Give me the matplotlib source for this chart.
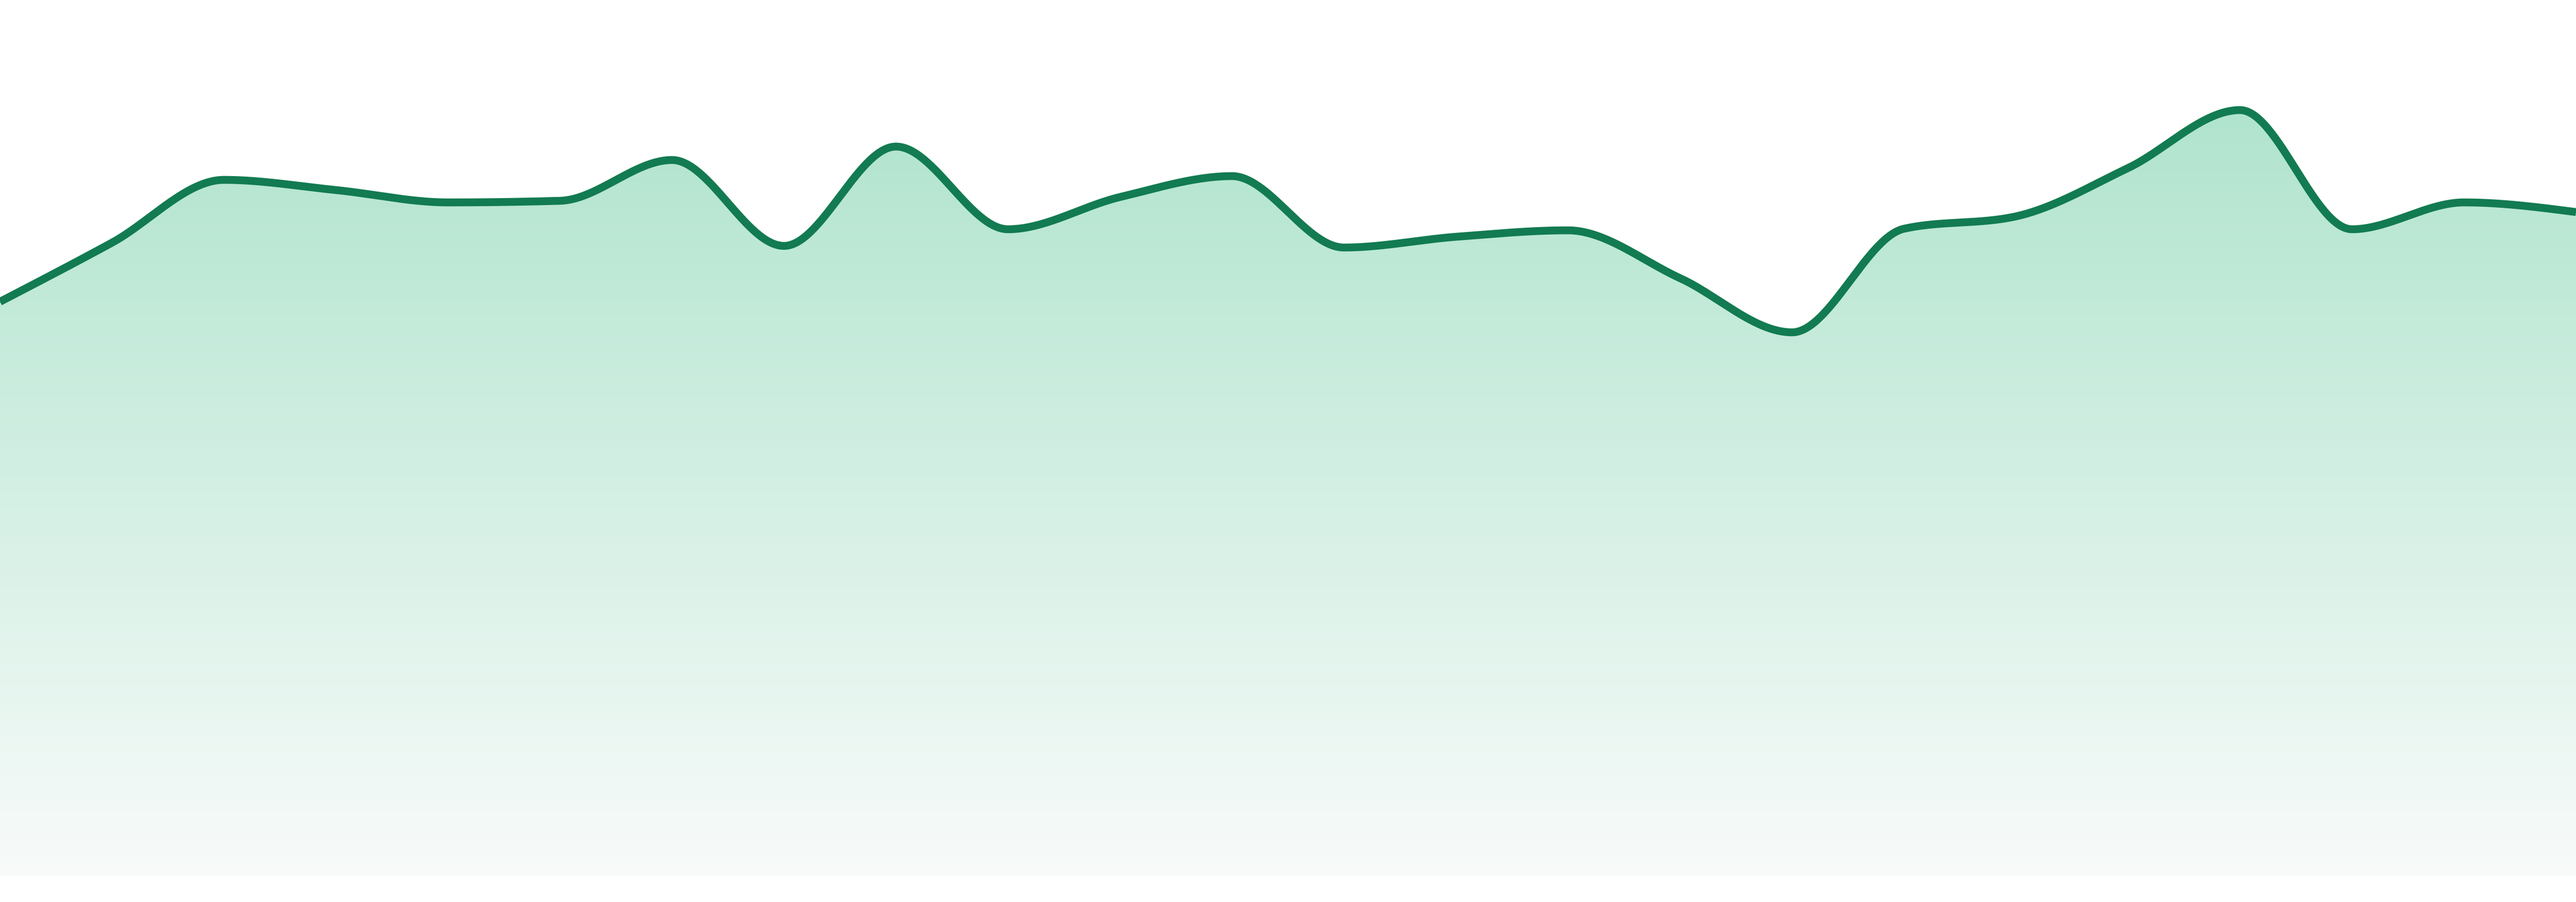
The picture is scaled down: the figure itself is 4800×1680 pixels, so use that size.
import numpy as np
import matplotlib
matplotlib.use("Agg")
import matplotlib.pyplot as plt
from matplotlib.colors import to_rgb

# ---- data (height above baseline, in chart units) ----
x_index = list(range(24))
values = [1070, 1180, 1297, 1278, 1255, 1258, 1334, 1174, 1359, 1205, 1265, 1304,
          1171, 1191, 1203, 1114, 1013, 1206, 1229, 1319, 1427, 1205, 1255, 1237]

line_color = "#127b51"
fill_top = "#b0e4ce"
fill_bottom = "#f8fbfa"


def monotone_curve(x, y, n=60):
    """Monotone cubic (Fritsch-Carlson / d3 curveMonotoneX style)."""
    x = np.asarray(x, float)
    y = np.asarray(y, float)
    h = np.diff(x)
    s = np.diff(y) / h
    m = np.zeros_like(y)
    for i in range(1, len(y) - 1):
        s0, s1 = s[i - 1], s[i]
        p = (s0 * h[i] + s1 * h[i - 1]) / (h[i - 1] + h[i])
        m[i] = (np.sign(s0) + np.sign(s1)) * min(abs(s0), abs(s1), 0.5 * abs(p))
    m[0] = (3 * s[0] - m[1]) / 2
    m[-1] = (3 * s[-1] - m[-2]) / 2
    xs, ys = [], []
    for i in range(len(h)):
        t = np.linspace(0, 1, n, endpoint=(i == len(h) - 1))
        h00 = 2 * t**3 - 3 * t**2 + 1
        h10 = t**3 - 2 * t**2 + t
        h01 = -2 * t**3 + 3 * t**2
        h11 = t**3 - t**2
        xs.append(x[i] + t * h[i])
        ys.append(h00 * y[i] + h10 * h[i] * m[i] + h01 * y[i + 1] + h11 * h[i] * m[i + 1])
    return np.concatenate(xs), np.concatenate(ys)


fig = plt.figure(figsize=(48, 16.8), dpi=100)
ax = fig.add_axes([0, 0, 1, 1])
ax.set_xlim(0, len(values) - 1)
ax.set_ylim(-48, 1632)
ax.axis("off")

cx, cy = monotone_curve(x_index, values)

# gradient fill clipped to area under the curve
poly = ax.fill_between(cx, 0, cy, color="none", linewidth=0)
top_v = 1432.0
rows = 400
vs = np.linspace(1632, -48, rows)
frac = np.clip((top_v - vs) / top_v, 0, 1)[:, None]
c0 = np.array(to_rgb(fill_top))
c1 = np.array(to_rgb(fill_bottom))
grad = (c0 * (1 - frac) + c1 * frac)[:, None, :]
grad = np.repeat(grad, 2, axis=1)
im = ax.imshow(grad, extent=[0, len(values) - 1, -48, 1632], aspect="auto",
               origin="upper", interpolation="bilinear", zorder=1)
path = poly.get_paths()[0]
im.set_clip_path(path, transform=ax.transData)

ax.plot(cx, cy, color=line_color, linewidth=10.5, solid_capstyle="butt", zorder=3)

fig.savefig("out.png", dpi=100, facecolor="white")
